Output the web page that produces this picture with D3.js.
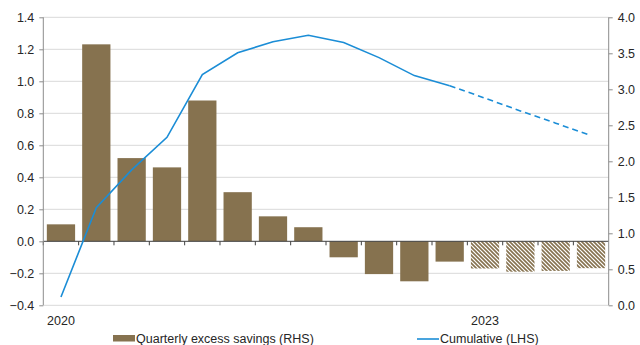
<!DOCTYPE html>
<html>
<head>
<meta charset="utf-8">
<script src="https://cdn.jsdelivr.net/npm/d3@7"></script>
<style>
  html, body { margin: 0; padding: 0; background: #fff; }
  svg { display: block; font-family: "Liberation Sans", Arial, sans-serif; }
</style>
</head>
<body>
<svg id="chart" width="640" height="345"></svg>
<script>
// Quarters 2020 Q1 – 2023 Q4
const quarters = ["2020Q1","2020Q2","2020Q3","2020Q4","2021Q1","2021Q2","2021Q3","2021Q4",
                  "2022Q1","2022Q2","2022Q3","2022Q4","2023Q1","2023Q2","2023Q3","2023Q4"];
// Quarterly excess savings (bars)
const quarterly = [0.106, 1.231, 0.52, 0.462, 0.88, 0.307, 0.156, 0.088,
                   -0.10, -0.205, -0.25, -0.127, -0.17, -0.19, -0.185, -0.168];
// Cumulative excess savings (line)
const cumulative = [0.115, 1.355, 1.88, 2.333, 3.203, 3.508, 3.66, 3.75,
                    3.65, 3.44, 3.19, 3.05, 2.877, 2.70, 2.53, 2.356];
// First projected quarter
const forecastStart = 12;
// Axis ticks
const leftTicks = [-0.4, -0.2, 0.0, 0.2, 0.4, 0.6, 0.8, 1.0, 1.2, 1.4];
const rightTicks = [0.0, 0.5, 1.0, 1.5, 2.0, 2.5, 3.0, 3.5, 4.0];
const yearLabels = [{q: "2020Q1", text: "2020"}, {q: "2023Q1", text: "2023"}];

const svg = d3.select("#chart");
const plotLeft = 43.3, plotRight = 608.7, plotTop = 17.3, plotBottom = 305.3;

const barColor = "#86724f";
const lineColor = "#1b8dd6";
const textColor = "#262626";

const x = d3.scaleBand().domain(quarters).range([plotLeft, plotRight])
  .paddingInner(0.2).paddingOuter(0.1);
const xStep = (plotRight - plotLeft) / quarters.length;
const xc = q => x(q) + x.bandwidth() / 2;
const yL = d3.scaleLinear().domain([-0.4, 1.4]).range([plotBottom, plotTop]);
const yR = d3.scaleLinear().domain([0, 4]).range([plotBottom, plotTop]);

// Hatch pattern for projected quarters
const defs = svg.append("defs");
const pat = defs.append("pattern").attr("id", "hatch")
  .attr("patternUnits", "userSpaceOnUse").attr("width", 4).attr("height", 4);
pat.append("rect").attr("width", 4).attr("height", 4).attr("fill", "#fff");
pat.append("path").attr("d", "M-1,-1L5,5M-1,3L1,5M3,-1L5,1")
  .attr("stroke", barColor).attr("stroke-width", 1.6);

// Gridlines
svg.append("g").selectAll("line").data(leftTicks.filter(t => t !== 0)).join("line")
  .attr("x1", plotLeft).attr("x2", plotRight)
  .attr("y1", d => yL(d)).attr("y2", d => yL(d))
  .attr("stroke", "#d9d9d9").attr("stroke-width", 1);

// Bars
svg.append("g").selectAll("rect").data(quarters).join("rect")
  .attr("x", d => x(d))
  .attr("width", x.bandwidth())
  .attr("y", (d, i) => yL(Math.max(0, quarterly[i])))
  .attr("height", (d, i) => Math.abs(yL(quarterly[i]) - yL(0)))
  .attr("fill", (d, i) => i >= forecastStart ? "url(#hatch)" : barColor);

// Zero line with quarter ticks
const zeroY = yL(0);
svg.append("line").attr("x1", plotLeft).attr("x2", plotRight)
  .attr("y1", zeroY).attr("y2", zeroY)
  .attr("stroke", "#404040").attr("stroke-width", 1);
svg.append("g").selectAll("line").data(d3.range(quarters.length)).join("line")
  .attr("x1", i => plotLeft + i * xStep).attr("x2", i => plotLeft + i * xStep)
  .attr("y1", zeroY).attr("y2", zeroY + 4)
  .attr("stroke", "#404040").attr("stroke-width", 1);

// Left and right value axes
const gL = svg.append("g").attr("transform", `translate(${plotLeft},0)`)
  .call(d3.axisLeft(yL).tickValues(leftTicks).tickFormat(d3.format(".1f")).tickSize(4).tickPadding(5));
const gR = svg.append("g").attr("transform", `translate(${plotRight},0)`)
  .call(d3.axisRight(yR).tickValues(rightTicks).tickFormat(d3.format(".1f")).tickSize(4).tickPadding(5));
[gL, gR].forEach(g => {
  g.select(".domain").attr("stroke", "#8c8c8c").attr("d", `M0,${plotTop}V${plotBottom}`);
  g.selectAll(".tick line").attr("stroke", "#8c8c8c");
  g.selectAll(".tick text").attr("fill", textColor).style("font-size", "12.5px")
    .style("font-family", "Liberation Sans, Arial, sans-serif");
});

// Cumulative line: solid for history, dashed for projection
const line = d3.line().x(d => xc(quarters[d.i])).y(d => yR(d.v));
const pts = cumulative.map((v, i) => ({i, v}));
svg.append("path").datum(pts.slice(0, forecastStart))
  .attr("d", line).attr("fill", "none")
  .attr("stroke", lineColor).attr("stroke-width", 1.6);
svg.append("path").datum(pts.slice(forecastStart - 1))
  .attr("d", line).attr("fill", "none")
  .attr("stroke", lineColor).attr("stroke-width", 1.6)
  .attr("stroke-dasharray", "6,4");

// Year labels
svg.append("g").selectAll("text").data(yearLabels).join("text")
  .attr("x", d => xc(d.q)).attr("y", 324.5)
  .attr("text-anchor", "middle").attr("fill", textColor)
  .style("font-size", "12.5px").text(d => d.text);

// Legend
const lg = svg.append("g");
lg.append("rect").attr("x", 113).attr("y", 335).attr("width", 22).attr("height", 6.5).attr("fill", barColor);
lg.append("text").attr("x", 136).attr("y", 343).attr("fill", textColor)
  .style("font-size", "12.5px").text("Quarterly excess savings (RHS)");
lg.append("line").attr("x1", 417).attr("x2", 439).attr("y1", 339).attr("y2", 339)
  .attr("stroke", lineColor).attr("stroke-width", 1.6);
lg.append("text").attr("x", 440).attr("y", 343).attr("fill", textColor)
  .style("font-size", "12.5px").text("Cumulative (LHS)");
</script>
</body>
</html>
